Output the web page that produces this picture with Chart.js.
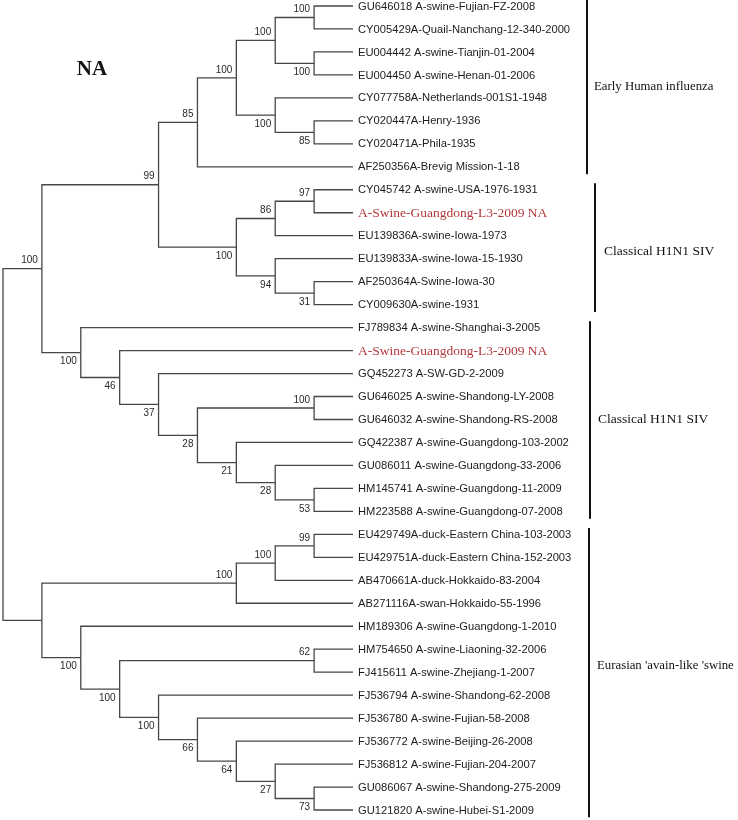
<!DOCTYPE html>
<html>
<head>
<meta charset="utf-8">
<script src="https://cdn.jsdelivr.net/npm/chart.js@4"></script>
<style>
  body { margin: 0; background: #fff; }
  canvas { display: block; }
</style>
</head>
<body>
<canvas id="tree" width="738" height="820"></canvas>
<script>
// Feuilles (ordre de haut en bas)
const leafNames = [
    'GU646018 A-swine-Fujian-FZ-2008',
    'CY005429A-Quail-Nanchang-12-340-2000',
    'EU004442 A-swine-Tianjin-01-2004',
    'EU004450 A-swine-Henan-01-2006',
    'CY077758A-Netherlands-001S1-1948',
    'CY020447A-Henry-1936',
    'CY020471A-Phila-1935',
    'AF250356A-Brevig Mission-1-18',
    'CY045742 A-swine-USA-1976-1931',
    'A-Swine-Guangdong-L3-2009 NA',
    'EU139836A-swine-Iowa-1973',
    'EU139833A-swine-Iowa-15-1930',
    'AF250364A-Swine-Iowa-30',
    'CY009630A-swine-1931',
    'FJ789834 A-swine-Shanghai-3-2005',
    'A-Swine-Guangdong-L3-2009 NA',
    'GQ452273 A-SW-GD-2-2009',
    'GU646025 A-swine-Shandong-LY-2008',
    'GU646032 A-swine-Shandong-RS-2008',
    'GQ422387 A-swine-Guangdong-103-2002',
    'GU086011 A-swine-Guangdong-33-2006',
    'HM145741 A-swine-Guangdong-11-2009',
    'HM223588 A-swine-Guangdong-07-2008',
    'EU429749A-duck-Eastern China-103-2003',
    'EU429751A-duck-Eastern China-152-2003',
    'AB470661A-duck-Hokkaido-83-2004',
    'AB271116A-swan-Hokkaido-55-1996',
    'HM189306 A-swine-Guangdong-1-2010',
    'HM754650 A-swine-Liaoning-32-2006',
    'FJ415611 A-swine-Zhejiang-1-2007',
    'FJ536794 A-swine-Shandong-62-2008',
    'FJ536780 A-swine-Fujian-58-2008',
    'FJ536772 A-swine-Beijing-26-2008',
    'FJ536812 A-swine-Fujian-204-2007',
    'GU086067 A-swine-Shandong-275-2009',
    'GU121820 A-swine-Hubei-S1-2009'
];
const redLeaves = [9, 15];

// Clades : [nom, enfant haut, enfant bas, bootstrap] (enfant = index feuille ou nom de clade)
const clades = [
    ['root', 'A', 'B', null],
    ['A', 'C', 'D', 100],
    ['C', 'E', 'F', 99],
    ['E', 'G', 7, 85],
    ['G', 'H', 'I', 100],
    ['H', 'J', 'K', 100],
    ['J', 0, 1, 100],
    ['K', 2, 3, 100],
    ['I', 4, 'L', 100],
    ['L', 5, 6, 85],
    ['F', 'M', 'N', 100],
    ['M', 'O', 10, 86],
    ['O', 8, 9, 97],
    ['N', 11, 'P', 94],
    ['P', 12, 13, 31],
    ['D', 14, 'Q', 100],
    ['Q', 15, 'R', 46],
    ['R', 16, 'S', 37],
    ['S', 'T', 'U', 28],
    ['T', 17, 18, 100],
    ['U', 19, 'V', 21],
    ['V', 20, 'W', 28],
    ['W', 21, 22, 53],
    ['B', 'X', 'Y', null],
    ['X', 'Z', 26, 100],
    ['Z', 'AA', 25, 100],
    ['AA', 23, 24, 99],
    ['Y', 27, 'AB', 100],
    ['AB', 'AC', 'AD', 100],
    ['AC', 28, 29, 62],
    ['AD', 30, 'AE', 100],
    ['AE', 31, 'AF', 66],
    ['AF', 32, 'AG', 64],
    ['AG', 33, 'AH', 27],
    ['AH', 34, 35, 73]
];

// Groupes à droite
const groupNames = ['Early Human influenza', 'Classical H1N1 SIV', 'Classical H1N1 SIV', "Eurasian 'avain-like 'swine"];
const groupFirst = [0, 8, 14, 23];
const groupLast = [7, 13, 22, 35];

// Mise en page (style, pas des données)
const bracketX = [587, 595, 590, 589];
const groupLabelX = [594, 604, 598, 597];
const groupLabelDy = [0, 4, 0, -7];

// Calcul de l'arbre (cladogramme : feuilles alignées)
const cladeMap = {};
clades.forEach(c => cladeMap[c[0]] = { name: c[0], kids: [c[1], c[2]], support: c[3] });

function layout(id) {
    if (typeof id === 'number') return { y: id, h: 0 };
    const n = cladeMap[id];
    const a = layout(n.kids[0]);
    const b = layout(n.kids[1]);
    n.a = a; n.b = b;
    n.y = (a.y + b.y) / 2;
    n.h = 1 + Math.max(a.h, b.h);
    return n;
}
const rootNode = layout('root');
const maxDepth = rootNode.h;

function setX(n) {
    n.x = maxDepth - n.h;
    if (n.kids) { setX(n.a); setX(n.b); }
}
setX(rootNode);

// Parent / position (haut ou bas) pour les bootstraps
clades.forEach(c => {
    const n = cladeMap[c[0]];
    n.kids.forEach((k, i) => {
        if (typeof k !== 'number') { cladeMap[k].parent = n; cladeMap[k].upper = (i === 0); }
    });
});

const datasets = clades.map(c => {
    const n = cladeMap[c[0]];
    return {
        data: [
            { x: n.a.x, y: n.a.y },
            { x: n.x, y: n.a.y },
            { x: n.x, y: n.b.y },
            { x: n.b.x, y: n.b.y }
        ],
        showLine: true,
        borderColor: '#474747',
        borderWidth: 1.3,
        pointRadius: 0,
        fill: false,
        tension: 0,
        clip: false
    };
});

const labelsPlugin = {
    id: 'treeLabels',
    afterDatasetsDraw(chart) {
        const ctx = chart.ctx;
        const xs = chart.scales.x, ys = chart.scales.y;
        ctx.save();
        ctx.textBaseline = 'middle';

        // Noms des feuilles
        const leafX = xs.getPixelForValue(maxDepth) + 5;
        leafNames.forEach((name, i) => {
            const y = ys.getPixelForValue(i) + 0.5;
            if (redLeaves.includes(i)) {
                ctx.font = '13.5px "Liberation Serif", "Times New Roman", serif';
                ctx.fillStyle = '#b3393b';
            } else {
                ctx.font = '11.2px "Liberation Sans", Arial, sans-serif';
                ctx.fillStyle = '#1c1c1c';
            }
            ctx.textAlign = 'left';
            ctx.fillText(name, leafX, y);
        });

        // Valeurs de bootstrap
        ctx.font = '10px "Liberation Sans", Arial, sans-serif';
        ctx.fillStyle = '#2a2a2a';
        ctx.textAlign = 'right';
        clades.forEach(c => {
            const n = cladeMap[c[0]];
            if (n.support == null || !n.parent) return;
            const px = xs.getPixelForValue(n.x) - 4;
            const py = ys.getPixelForValue(n.y) + (n.upper ? -8 : 9);
            ctx.fillText(String(n.support), px, py);
        });

        // Titre NA
        ctx.font = 'bold 21px "Liberation Serif", "Times New Roman", serif';
        ctx.fillStyle = '#111';
        ctx.textAlign = 'center';
        ctx.fillText('NA', 92, 70);

        // Accolades des groupes
        ctx.strokeStyle = '#111';
        ctx.lineWidth = 2;
        ctx.textAlign = 'left';
        groupNames.forEach((g, i) => {
            const y1 = ys.getPixelForValue(groupFirst[i] - 0.28);
            const y2 = ys.getPixelForValue(groupLast[i] + 0.32);
            ctx.beginPath();
            ctx.moveTo(bracketX[i], y1);
            ctx.lineTo(bracketX[i], y2);
            ctx.stroke();
            const ym = ys.getPixelForValue((groupFirst[i] + groupLast[i]) / 2) + groupLabelDy[i];
            const size = (i === 1 || i === 2) ? 13.5 : 12.8;
            ctx.font = size + 'px "Liberation Serif", "Times New Roman", serif';
            ctx.fillText(g, groupLabelX[i], ym);
        });
        ctx.restore();
    }
};

new Chart(document.getElementById('tree'), {
    type: 'scatter',
    data: { datasets },
    options: {
        responsive: false,
        animation: false,
        events: [],
        layout: { padding: { left: 3, right: 0, top: 6, bottom: 10 } },
        scales: {
            x: { type: 'linear', display: false, min: 0, max: 18.9 },
            y: { type: 'linear', display: false, min: 0, max: leafNames.length - 1, reverse: true }
        },
        plugins: {
            legend: { display: false },
            tooltip: { enabled: false }
        }
    },
    plugins: [labelsPlugin]
});
</script>
</body>
</html>
